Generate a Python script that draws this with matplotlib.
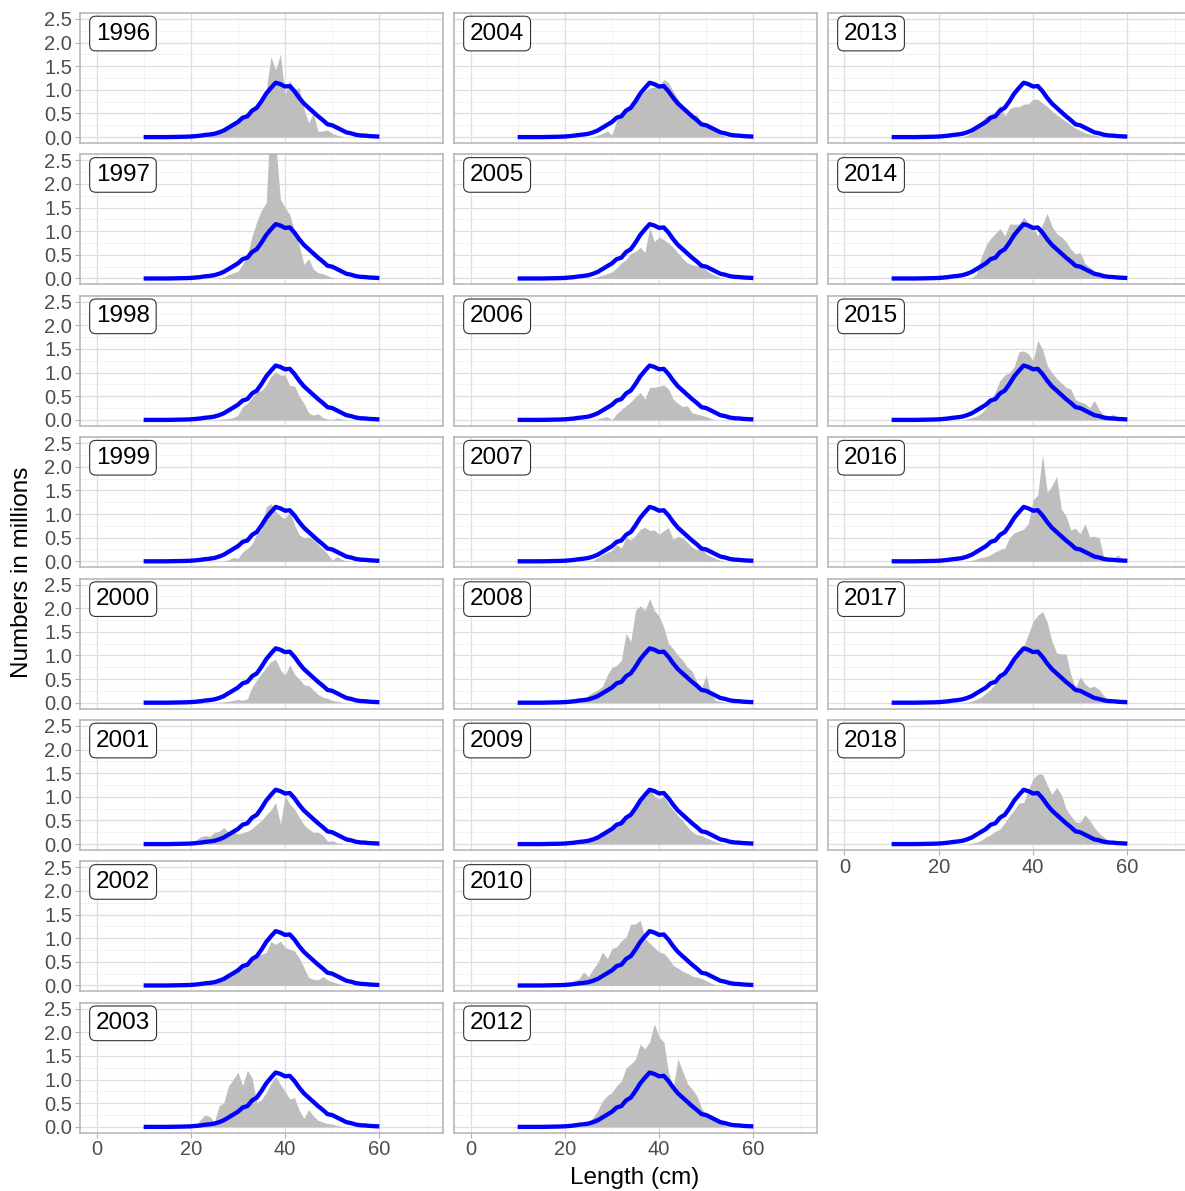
import matplotlib
matplotlib.use('Agg')
import matplotlib.pyplot as plt

plt.rcParams['font.family'] = ['Liberation Sans', 'DejaVu Sans']

# mean length distribution (blue line), 10..60 cm
length_cm = list(range(10, 61))
mean_num = [0, 0, 0, 0, 0, 0, 0.002, 0.004, 0.006, 0.008, 0.012, 0.02, 0.03, 0.045, 0.055,
            0.07, 0.1, 0.14, 0.2, 0.26, 0.32, 0.41, 0.44, 0.56, 0.62, 0.76, 0.92, 1.04, 1.15,
            1.12, 1.07, 1.08, 0.97, 0.83, 0.71, 0.62, 0.53, 0.44, 0.36, 0.27, 0.25, 0.2, 0.15,
            0.1, 0.08, 0.05, 0.035, 0.03, 0.02, 0.015, 0.01]

# yearly distributions (grey area), 20..60 cm
gray_len = list(range(20, 61))
n1996 = [0, 0, 0, 0.01, 0.03, 0.05, 0.07, 0.12, 0.18, 0.24, 0.3, 0.38, 0.45, 0.55, 0.62, 0.78, 1.0,
         1.7, 1.42, 1.75, 0.9, 1.2, 1.0, 1.05, 0.6, 0.3, 0.5, 0.12, 0.13, 0.15, 0.08, 0.04, 0.02,
         0, 0, 0, 0, 0, 0, 0, 0]
n1997 = [0, 0, 0, 0, 0, 0, 0.01, 0.03, 0.08, 0.12, 0.15, 0.3, 0.5, 0.9, 1.2, 1.45, 1.6, 3.6, 2.9,
         1.68, 1.5, 1.35, 1.0, 0.7, 0.3, 0.42, 0.2, 0.12, 0.1, 0.06, 0.02, 0, 0, 0, 0, 0, 0, 0, 0, 0, 0]
n1998 = [0, 0, 0, 0, 0, 0, 0.01, 0.02, 0.03, 0.05, 0.1, 0.28, 0.35, 0.47, 0.6, 0.62, 0.74, 0.92,
         1.02, 0.95, 0.95, 0.73, 0.72, 0.5, 0.35, 0.15, 0.1, 0.13, 0.05, 0.02, 0.01, 0.04, 0.02,
         0, 0, 0, 0, 0, 0, 0, 0]
n1999 = [0, 0, 0, 0, 0, 0, 0, 0.01, 0.03, 0.08, 0.06, 0.2, 0.27, 0.37, 0.58, 0.67, 1.15, 1.22,
         1.06, 0.96, 0.9, 1.07, 0.77, 0.56, 0.5, 0.52, 0.46, 0.36, 0.26, 0.16, 0.02, 0.1, 0.04,
         0.01, 0, 0, 0, 0, 0, 0, 0]
n2000 = [0, 0, 0, 0, 0, 0, 0.01, 0.02, 0.03, 0.05, 0.07, 0.05, 0.08, 0.33, 0.48, 0.62, 0.75, 0.87,
         0.92, 0.7, 0.58, 0.8, 0.6, 0.5, 0.38, 0.36, 0.27, 0.17, 0.12, 0.09, 0.05, 0.03, 0.01,
         0, 0, 0, 0, 0, 0, 0, 0]
n2001 = [0.02, 0.08, 0.15, 0.18, 0.16, 0.25, 0.27, 0.35, 0.25, 0.26, 0.21, 0.24, 0.27, 0.33, 0.42,
         0.5, 0.62, 0.72, 0.88, 0.42, 1.02, 0.85, 0.74, 0.57, 0.41, 0.32, 0.25, 0.25, 0.19, 0.06,
         0.07, 0.03, 0.01, 0, 0, 0, 0, 0, 0, 0, 0]
n2002 = [0, 0, 0.01, 0.03, 0.06, 0.09, 0.13, 0.17, 0.2, 0.24, 0.3, 0.37, 0.45, 0.54, 0.62, 0.66,
         0.7, 0.93, 0.87, 0.94, 0.8, 0.77, 0.73, 0.58, 0.38, 0.17, 0.13, 0.12, 0.19, 0.12, 0.08,
         0.05, 0.02, 0, 0, 0, 0, 0, 0, 0, 0]
n2003 = [0, 0.01, 0.15, 0.25, 0.22, 0.1, 0.45, 0.51, 0.87, 1.0, 1.16, 0.87, 1.2, 1.04, 0.51, 0.58,
         0.72, 0.92, 1.07, 0.9, 0.75, 0.59, 0.62, 0.35, 0.18, 0.37, 0.23, 0.14, 0.1, 0.07, 0.06,
         0.03, 0.01, 0, 0, 0, 0, 0, 0, 0, 0]
n2004 = [0, 0, 0, 0, 0, 0, 0.01, 0.04, 0.08, 0.13, 0.04, 0.35, 0.42, 0.56, 0.63, 0.74, 0.87, 0.97,
         1.04, 1.06, 1.08, 1.22, 1.15, 0.97, 0.8, 0.67, 0.57, 0.46, 0.48, 0.28, 0.21, 0.16, 0.1,
         0.05, 0.02, 0, 0, 0, 0, 0, 0]
n2005 = [0, 0, 0, 0, 0, 0, 0.01, 0.04, 0.07, 0.1, 0.14, 0.22, 0.33, 0.4, 0.53, 0.57, 0.66, 0.55,
         1.08, 0.78, 0.88, 0.82, 0.75, 0.66, 0.54, 0.42, 0.33, 0.29, 0.27, 0.26, 0.17, 0.11, 0.06,
         0.02, 0, 0, 0, 0, 0, 0, 0]
n2006 = [0, 0, 0, 0, 0, 0, 0, 0.02, 0.05, 0.07, 0.0, 0.13, 0.22, 0.3, 0.38, 0.49, 0.58, 0.44, 0.69,
         0.69, 0.71, 0.74, 0.65, 0.44, 0.35, 0.28, 0.3, 0.15, 0.12, 0.1, 0.07, 0.03,
         0, 0, 0, 0, 0, 0, 0, 0, 0]
n2007 = [0, 0, 0, 0, 0, 0, 0.02, 0.08, 0.14, 0.19, 0.23, 0.35, 0.28, 0.5, 0.45, 0.55, 0.68, 0.72,
         0.65, 0.66, 0.57, 0.65, 0.71, 0.46, 0.53, 0.5, 0.4, 0.3, 0.24, 0.3, 0.15, 0.11, 0.06,
         0.02, 0, 0, 0, 0, 0, 0, 0]
n2008 = [0, 0.01, 0.02, 0.03, 0.05, 0.16, 0.22, 0.27, 0.35, 0.58, 0.75, 0.79, 0.9, 1.46, 1.3, 1.95,
         2.05, 1.95, 2.2, 1.95, 1.83, 1.6, 1.25, 1.14, 1.0, 0.9, 0.75, 0.67, 0.45, 0.3, 0.59, 0.17,
         0.05, 0.03, 0.01, 0, 0, 0, 0, 0, 0]
n2009 = [0, 0.01, 0.04, 0.04, 0.05, 0.07, 0.1, 0.15, 0.2, 0.27, 0.36, 0.46, 0.53, 0.6, 0.7, 0.82,
         0.95, 1.13, 1.16, 1.02, 0.95, 1.02, 0.85, 0.72, 0.6, 0.5, 0.37, 0.26, 0.2, 0.18, 0.13,
         0.09, 0.05, 0.02, 0, 0, 0, 0, 0, 0, 0]
n2010 = [0.01, 0.05, 0.11, 0.14, 0.29, 0.18, 0.35, 0.48, 0.71, 0.57, 0.78, 0.82, 0.95, 1.02, 1.3,
         1.3, 1.38, 1.0, 0.9, 0.8, 0.71, 0.68, 0.57, 0.43, 0.37, 0.3, 0.26, 0.2, 0.18, 0.15, 0.1,
         0.05, 0.01, 0, 0, 0, 0, 0, 0, 0, 0]
n2012 = [0, 0, 0, 0, 0.01, 0.1, 0.2, 0.35, 0.55, 0.66, 0.73, 0.87, 0.97, 1.25, 1.33, 1.43, 1.75,
         1.65, 1.8, 2.18, 1.9, 1.8, 1.15, 0.84, 1.44, 1.18, 0.92, 0.8, 0.66, 0.4, 0.26, 0.24, 0.2,
         0.1, 0.03, 0, 0, 0, 0, 0, 0]
n2013 = [0, 0, 0, 0, 0, 0.01, 0.04, 0.09, 0.2, 0.34, 0.44, 0.48, 0.54, 0.68, 0.45, 0.6, 0.64, 0.64,
         0.7, 0.7, 0.8, 0.8, 0.72, 0.65, 0.55, 0.47, 0.4, 0.33, 0.26, 0.19, 0.14, 0.09, 0.06, 0.04,
         0.02, 0.01, 0, 0, 0, 0, 0]
n2014 = [0, 0, 0, 0, 0, 0, 0, 0.02, 0.1, 0.45, 0.7, 0.85, 0.95, 1.06, 0.9, 1.15, 1.15, 1.15, 1.3,
         1.18, 1.08, 0.9, 1.15, 1.38, 1.1, 0.95, 0.88, 0.78, 0.62, 0.52, 0.55, 0.32, 0.24, 0.16,
         0.1, 0.05, 0.01, 0, 0, 0, 0]
n2015 = [0, 0, 0, 0, 0, 0, 0.02, 0.05, 0.08, 0.14, 0.25, 0.4, 0.6, 0.84, 0.95, 1.0, 1.13, 1.44,
         1.46, 1.4, 1.25, 1.68, 1.5, 1.15, 1.0, 0.88, 0.78, 0.69, 0.65, 0.43, 0.38, 0.35, 0.26,
         0.41, 0.22, 0.1, 0.06, 0.12, 0.05, 0.01, 0]
n2016 = [0, 0, 0, 0, 0, 0, 0, 0.02, 0.05, 0.08, 0.1, 0.14, 0.2, 0.25, 0.28, 0.5, 0.6, 0.64, 0.68,
         0.8, 1.3, 1.4, 2.26, 1.45, 1.6, 1.8, 1.1, 0.96, 0.66, 0.7, 0.58, 0.8, 0.52, 0.53, 0.5,
         0.08, 0.02, 0.05, 0.14, 0.02, 0]
n2017 = [0, 0, 0, 0, 0, 0, 0.01, 0.04, 0.07, 0.12, 0.2, 0.28, 0.4, 0.5, 0.62, 0.8, 0.93, 1.02, 1.2,
         1.45, 1.72, 1.85, 1.93, 1.7, 1.3, 1.05, 1.03, 1.03, 0.6, 0.32, 0.55, 0.4, 0.32, 0.35,
         0.28, 0.15, 0.06, 0.05, 0.08, 0.02, 0]
n2018 = [0, 0, 0, 0, 0, 0, 0, 0.02, 0.04, 0.08, 0.15, 0.2, 0.27, 0.32, 0.45, 0.6, 0.72, 0.87, 0.88,
         1.15, 1.38, 1.48, 1.48, 1.25, 1.05, 1.2, 1.05, 0.74, 0.6, 0.47, 0.46, 0.62, 0.5, 0.35,
         0.23, 0.15, 0.08, 0.03, 0.04, 0.01, 0]

years_by_col = [
    [1996, 1997, 1998, 1999, 2000, 2001, 2002, 2003],
    [2004, 2005, 2006, 2007, 2008, 2009, 2010, 2012],
    [2013, 2014, 2015, 2016, 2017, 2018],
]
series = {1996: n1996, 1997: n1997, 1998: n1998, 1999: n1999, 2000: n2000, 2001: n2001,
          2002: n2002, 2003: n2003, 2004: n2004, 2005: n2005, 2006: n2006, 2007: n2007,
          2008: n2008, 2009: n2009, 2010: n2010, 2012: n2012, 2013: n2013, 2014: n2014,
          2015: n2015, 2016: n2016, 2017: n2017, 2018: n2018}

W, H = 1185, 1191
fig = plt.figure(figsize=(W / 100, H / 100), dpi=100)

col_left = [80, 454, 828]
pw, ph = 363, 130
pitch = 141.4

for c, yrs in enumerate(years_by_col):
    for r, yr in enumerate(yrs):
        top = 13 + r * pitch
        ax = fig.add_axes([col_left[c] / W, 1 - (top + ph) / H, pw / W, ph / H])
        ax.fill_between(gray_len, 0, series[yr], color='#BEBEBE', lw=0, zorder=2)
        ax.plot(length_cm, mean_num, color='#0000FF', lw=3.1, zorder=3,
                solid_capstyle='butt', solid_joinstyle='round')
        ax.set_xlim(-3.5, 73.5)
        ax.set_ylim(-0.125, 2.625)
        ax.set_xticks([0, 20, 40, 60])
        ax.set_xticks([10, 30, 50, 70], minor=True)
        ax.set_yticks([0, 0.5, 1.0, 1.5, 2.0, 2.5])
        ax.set_yticks([0.25, 0.75, 1.25, 1.75, 2.25], minor=True)
        ax.set_yticklabels(['0.0', '0.5', '1.0', '1.5', '2.0', '2.5'])
        ax.grid(which='major', color='#DEDEDE', lw=0.9, zorder=0)
        ax.grid(which='minor', color='#EDEDED', lw=0.5, zorder=0)
        ax.set_axisbelow(True)
        for s in ax.spines.values():
            s.set_color('#B3B3B3')
            s.set_linewidth(1.1)
        bottom = (r == len(yrs) - 1)
        left = (c == 0)
        ax.tick_params(which='both', colors='#B3B3B3', labelcolor='#4D4D4D', labelsize=14.5,
                       length=3.5, width=0.8, pad=2,
                       bottom=bottom, labelbottom=bottom, left=left, labelleft=left)
        ax.tick_params(which='minor', length=0)
        ax.text(0.044, 0.842, str(yr), transform=ax.transAxes, fontsize=17.5, ha='left',
                va='center', zorder=5,
                bbox=dict(boxstyle='round,pad=0.26,rounding_size=0.25', fc='white',
                          ec='#333333', lw=0.8))

fig.text(22 / W, 1 - 572 / H, 'Numbers in millions', rotation=90, ha='center', va='center',
         fontsize=17.5)
fig.text(635 / W, 1 - 1178 / H, 'Length (cm)', ha='center', va='center', fontsize=17.5)

fig.savefig('out.png', dpi=100)
